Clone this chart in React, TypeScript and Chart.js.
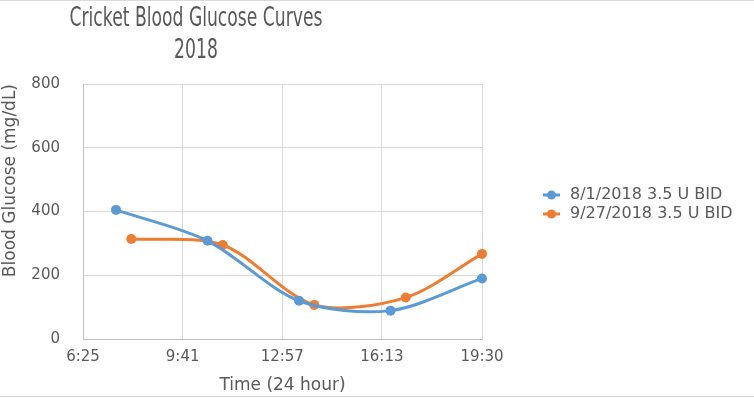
import React, { useEffect, useRef, useMemo } from 'react';
import { Chart, registerables } from 'chart.js';

Chart.register(...registerables);

const titleLines = ['Cricket Blood Glucose Curves', '2018'];
const xAxisTitle = 'Time (24 hour)';
const yAxisTitle = 'Blood Glucose (mg/dL)';
const xTickLabels = ['6:25', '9:41', '12:57', '16:13', '19:30'];
const yMin = 0;
const yMax = 800;
const yStep = 200;

const seriesNames = ['8/1/2018 3.5 U BID', '9/27/2018 3.5 U BID'];
const seriesColors = ['#5B9BD5', '#ED7D31'];
const series1Times = ['7:30', '10:30', '13:30', '16:30', '19:30'];
const series1Values = [405, 308, 120, 89, 190];
const series2Times = ['8:00', '11:00', '14:00', '17:00', '19:30'];
const series2Values = [314, 295, 107, 130, 267];

const FONT = '"DejaVu Sans"';
const TEXT = '#595959';
const GRID = '#d9d9d9';
const AXIS = '#bfbfbf';

const toMinutes = (s: string) => {
  const [h, m] = s.split(':').map(Number);
  return h * 60 + m;
};

function measure(text: string, font: string) {
  const c = document.createElement('canvas');
  const ctx = c.getContext('2d')!;
  ctx.font = font;
  return ctx.measureText(text).width;
}

function makeMarker(color: string) {
  const c = document.createElement('canvas');
  c.width = 73;
  c.height = 10;
  const ctx = c.getContext('2d')!;
  ctx.strokeStyle = color;
  ctx.lineWidth = 3;
  ctx.beginPath();
  ctx.moveTo(56, 5);
  ctx.lineTo(73, 5);
  ctx.stroke();
  ctx.fillStyle = color;
  ctx.beginPath();
  ctx.arc(64.5, 5, 4.5, 0, Math.PI * 2);
  ctx.fill();
  return c;
}

export default function App() {
  const canvasRef = useRef<HTMLCanvasElement>(null);

  const titleScale = useMemo(() => {
    const w = measure(titleLines[0], `27px ${FONT}`);
    return w > 0 ? 253 / w : 1;
  }, []);

  useEffect(() => {
    document.body.style.margin = '0';
    const canvas = canvasRef.current!;
    Chart.defaults.font.family = FONT;

    const legendFontSize = 16;
    const legendPad = 3;
    const boxW = 77;
    const textW = Math.max(...seriesNames.map((n) => measure(n, `${legendFontSize}px ${FONT}`)));
    const legendW = legendPad + boxW + legendFontSize / 2 + textW + 10;
    const padRight = Math.max(0, 754 - 482 - legendW);

    const markers = seriesColors.map(makeMarker);
    const timesList = [series1Times, series2Times];
    const valuesList = [series1Values, series2Values];

    const datasets = seriesNames.map((name, i) => ({
      label: name,
      data: timesList[i].map((t, j) => ({ x: toMinutes(t), y: valuesList[i][j] })),
      borderColor: seriesColors[i],
      backgroundColor: seriesColors[i],
      pointBackgroundColor: seriesColors[i],
      pointBorderColor: seriesColors[i],
      pointBorderWidth: 0,
      pointRadius: 5,
      borderWidth: 3,
      tension: 0.3,
      clip: false as const,
    }));

    const chart = new Chart(canvas, {
      type: 'line',
      data: { datasets },
      options: {
        responsive: false,
        animation: false,
        layout: { padding: { top: 84, left: 0, right: padRight, bottom: 0 } },
        plugins: {
          title: { display: false },
          tooltip: { enabled: false },
          legend: {
            position: 'right',
            fullSize: false,
            align: 'start',
            maxWidth: 400,
            title: { display: true, text: ' ', font: { size: 10 }, padding: { top: 88, bottom: 0 } },
            labels: {
              usePointStyle: true,
              pointStyleWidth: boxW,
              padding: legendPad,
              color: TEXT,
              font: { size: legendFontSize, family: FONT },
              generateLabels: (ch: any) => {
                const items = Chart.defaults.plugins.legend.labels.generateLabels(ch);
                return items.map((it: any, i: number) => ({ ...it, pointStyle: markers[i], fontColor: TEXT }));
              },
            },
          },
        },
        scales: {
          x: {
            type: 'linear',
            position: 'bottom',
            min: toMinutes(xTickLabels[0]),
            max: toMinutes(xTickLabels[xTickLabels.length - 1]),
            afterBuildTicks: (scale: any) => {
              scale.ticks = xTickLabels.map((l) => ({ value: toMinutes(l) }));
            },
            afterFit: (scale: any) => {
              scale.height = 59;
            },
            grid: { color: GRID, lineWidth: 1, drawTicks: false },
            border: { color: AXIS, width: 1 },
            ticks: {
              padding: 9,
              color: TEXT,
              font: { size: 15, family: FONT },
              maxRotation: 0,
              autoSkip: false,
              callback: (_v: any, i: number) => xTickLabels[i],
            },
            title: {
              display: true,
              text: xAxisTitle,
              color: TEXT,
              font: { size: 17, family: FONT },
              padding: { top: 0, bottom: 2 },
            },
          },
          y: {
            min: yMin,
            max: yMax,
            afterFit: (scale: any) => {
              scale.width = 83;
            },
            grid: { color: GRID, lineWidth: 1, drawTicks: false },
            border: { color: AXIS, width: 1 },
            ticks: {
              stepSize: yStep,
              padding: 23,
              color: TEXT,
              font: { size: 15, family: FONT },
            },
            title: {
              display: true,
              text: yAxisTitle,
              align: 'end',
              color: TEXT,
              font: { size: 17, family: FONT },
              padding: { top: 0, bottom: 0 },
            },
          },
        },
      },
    } as any);
    return () => chart.destroy();
  }, []);

  return (
    <div style={{ position: 'absolute', left: 0, top: 0, width: 754, height: 398, background: '#fff', overflow: 'hidden' }}>
      <canvas ref={canvasRef} width={754} height={398} style={{ position: 'absolute', left: 0, top: 0 }} />
      <div style={{ position: 'absolute', left: 0, top: 0, width: 754, height: 1, background: GRID }} />
      <div style={{ position: 'absolute', left: 0, top: 396, width: 754, height: 1, background: GRID }} />
      <div
        style={{
          position: 'absolute',
          left: 195.5,
          top: 1,
          transform: `translateX(-50%) scaleX(${titleScale})`,
          fontFamily: FONT,
          fontSize: 27,
          lineHeight: '32px',
          color: TEXT,
          textAlign: 'center',
          whiteSpace: 'nowrap',
        }}
      >
        {titleLines.map((l) => (
          <div key={l}>{l}</div>
        ))}
      </div>
    </div>
  );
}
